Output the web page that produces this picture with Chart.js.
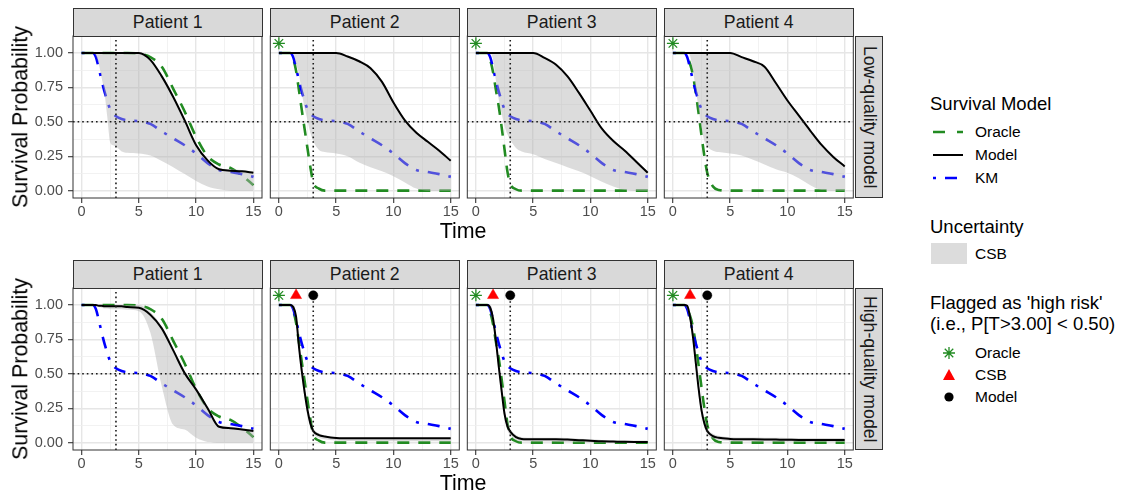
<!DOCTYPE html>
<html>
<head>
<meta charset="utf-8">
<script src="https://cdn.jsdelivr.net/npm/chart.js@4.4.1/dist/chart.umd.min.js"></script>
<style>
  body { margin: 0; background: #fff; }
  #page { position: relative; width: 1122px; height: 493px; overflow: hidden; font-family: "Liberation Sans", Arial, sans-serif; color: #000; }
  #page canvas { position: absolute; }
  .strip { position: absolute; box-sizing: border-box; background: #d9d9d9; border: 1px solid #333; color: #1a1a1a; font-size: 17.7px; display: flex; align-items: center; justify-content: center; white-space: nowrap; }
  .vstrip { writing-mode: vertical-rl; }
  .txt { position: absolute; white-space: nowrap; line-height: 1; }
  #keys { position: absolute; left: 0; top: 0; }
</style>
</head>
<body>
<div id="page"></div>
<script>
// ---- data ----
const times = [0, 1, 1.25, 1.5, 1.75, 2, 2.25, 2.5, 2.75, 3, 3.5, 4, 5, 6, 7, 8, 9, 10, 11, 12, 13, 14, 15];
const patients = ['Patient 1', 'Patient 2', 'Patient 3', 'Patient 4'];
const rowLabels = ['Low-quality model', 'High-quality model'];
const xBreaks = [0, 5, 10, 15];
const xMinorBreaks = [2.5, 7.5, 12.5];
const yBreaks = [0, 0.25, 0.5, 0.75, 1];
const yMinorBreaks = [0.125, 0.375, 0.625, 0.875];
const riskTime = 3;
const riskLevel = 0.5;
const flagY = 1.07;

// population Kaplan-Meier (same in every panel)
const kmCurve = [1, 1, 0.97, 0.89, 0.80, 0.72, 0.65, 0.59, 0.56, 0.54, 0.52, 0.51, 0.505, 0.485, 0.43, 0.38, 0.33, 0.27, 0.20, 0.15, 0.135, 0.12, 0.10];

// true survival per patient
const oracleCurves = [
  [1, 1, 1, 1, 1, 1, 1, 1, 1, 1, 1, 1, 0.995, 0.97, 0.90, 0.74, 0.575, 0.39, 0.25, 0.19, 0.165, 0.11, 0.04],
  [1, 1, 0.96, 0.87, 0.73, 0.585, 0.445, 0.305, 0.17, 0.06, 0.015, 0, 0, 0, 0, 0, 0, 0, 0, 0, 0, 0, 0],
  [1, 1, 0.95, 0.86, 0.73, 0.61, 0.46, 0.30, 0.14, 0.05, 0.01, 0, 0, 0, 0, 0, 0, 0, 0, 0, 0, 0, 0],
  [1, 1, 0.97, 0.92, 0.84, 0.71, 0.56, 0.40, 0.25, 0.13, 0.03, 0.005, 0, 0, 0, 0, 0, 0, 0, 0, 0, 0, 0]
];

// low-quality model
const modelLow = [
  [1, 1, 1, 1, 1, 1, 1, 1, 1, 1, 1, 1, 1, 0.95, 0.83, 0.68, 0.51, 0.33, 0.22, 0.155, 0.145, 0.14, 0.13],
  [1, 1, 1, 1, 1, 1, 1, 1, 1, 1, 1, 1, 1, 0.975, 0.94, 0.89, 0.79, 0.64, 0.51, 0.42, 0.355, 0.29, 0.217],
  [1, 1, 1, 1, 1, 1, 1, 1, 1, 1, 1, 1, 1, 0.965, 0.915, 0.83, 0.71, 0.58, 0.45, 0.36, 0.29, 0.21, 0.13],
  [1, 1, 1, 1, 1, 1, 1, 1, 1, 1, 1, 1, 1, 0.97, 0.94, 0.90, 0.78, 0.655, 0.545, 0.435, 0.33, 0.245, 0.176]
];
const bandLowUpper = [
  [1, 1, 1, 1, 1, 1, 1, 1, 1, 1, 1, 1, 1, 0.96, 0.845, 0.695, 0.525, 0.345, 0.23, 0.165, 0.155, 0.15, 0.14],
  [1, 1, 1, 1, 1, 1, 1, 1, 1, 1, 1, 1, 1, 0.98, 0.95, 0.90, 0.80, 0.65, 0.52, 0.43, 0.365, 0.30, 0.225],
  [1, 1, 1, 1, 1, 1, 1, 1, 1, 1, 1, 1, 1, 0.97, 0.925, 0.84, 0.72, 0.59, 0.46, 0.37, 0.30, 0.22, 0.14],
  [1, 1, 1, 1, 1, 1, 1, 1, 1, 1, 1, 1, 1, 0.975, 0.95, 0.91, 0.79, 0.665, 0.555, 0.445, 0.34, 0.255, 0.185]
];
const bandLowLower = [
  [1, 1, 0.98, 0.92, 0.82, 0.71, 0.53, 0.35, 0.33, 0.32, 0.285, 0.275, 0.27, 0.255, 0.215, 0.17, 0.12, 0.07, 0.03, 0.01, 0, 0, 0],
  [1, 1, 1, 0.92, 0.85, 0.71, 0.60, 0.51, 0.42, 0.36, 0.295, 0.28, 0.27, 0.25, 0.205, 0.17, 0.14, 0.105, 0.06, 0.015, 0, 0, 0],
  [1, 1, 1, 0.95, 0.80, 0.66, 0.56, 0.47, 0.41, 0.37, 0.31, 0.285, 0.265, 0.23, 0.20, 0.17, 0.14, 0.105, 0.065, 0.03, 0.005, 0, 0],
  [1, 1, 1, 0.98, 0.87, 0.74, 0.59, 0.46, 0.36, 0.32, 0.29, 0.28, 0.27, 0.255, 0.225, 0.19, 0.155, 0.13, 0.09, 0.04, 0.005, 0, 0]
];

// high-quality model
const modelHigh = [
  [1, 1, 1, 0.995, 0.995, 0.99, 0.99, 0.99, 0.99, 0.99, 0.99, 0.985, 0.98, 0.93, 0.83, 0.67, 0.505, 0.385, 0.25, 0.115, 0.105, 0.095, 0.085],
  [1, 1, 0.985, 0.915, 0.70, 0.52, 0.366, 0.235, 0.14, 0.084, 0.055, 0.045, 0.034, 0.032, 0.031, 0.031, 0.031, 0.031, 0.031, 0.031, 0.031, 0.031, 0.031],
  [1, 1, 0.98, 0.90, 0.74, 0.55, 0.375, 0.21, 0.12, 0.08, 0.04, 0.027, 0.024, 0.024, 0.024, 0.022, 0.018, 0.014, 0.01, 0.008, 0.006, 0.005, 0.005],
  [1, 1, 0.995, 0.91, 0.77, 0.58, 0.39, 0.235, 0.14, 0.084, 0.047, 0.035, 0.027, 0.025, 0.024, 0.023, 0.022, 0.021, 0.02, 0.02, 0.02, 0.02, 0.02]
];
const bandHighUpper = [
  [1, 1, 1, 1, 1, 1, 1, 1, 1, 1, 1, 1, 1, 0.95, 0.845, 0.685, 0.52, 0.395, 0.265, 0.125, 0.115, 0.105, 0.095],
  [1, 1, 1, 0.95, 0.75, 0.57, 0.41, 0.27, 0.165, 0.105, 0.068, 0.052, 0.038, 0.036, 0.035, 0.035, 0.035, 0.035, 0.035, 0.035, 0.035, 0.035, 0.035],
  [1, 1, 1, 0.94, 0.79, 0.60, 0.42, 0.25, 0.15, 0.10, 0.055, 0.04, 0.036, 0.036, 0.035, 0.033, 0.029, 0.025, 0.02, 0.018, 0.016, 0.015, 0.015],
  [1, 1, 1, 0.95, 0.82, 0.63, 0.435, 0.27, 0.17, 0.105, 0.065, 0.05, 0.04, 0.038, 0.037, 0.036, 0.035, 0.034, 0.033, 0.033, 0.033, 0.033, 0.033]
];
const bandHighLower = [
  [1, 0.995, 0.99, 0.985, 0.98, 0.975, 0.975, 0.97, 0.97, 0.97, 0.97, 0.965, 0.955, 0.80, 0.41, 0.13, 0.095, 0.035, 0.005, 0, 0, 0, 0],
  [1, 0.995, 0.96, 0.87, 0.66, 0.47, 0.32, 0.19, 0.105, 0.062, 0.035, 0.025, 0.015, 0.012, 0.011, 0.01, 0.01, 0.01, 0.01, 0.01, 0.01, 0.01, 0.01],
  [1, 0.995, 0.95, 0.86, 0.69, 0.50, 0.33, 0.175, 0.09, 0.055, 0.02, 0.01, 0.008, 0.008, 0.007, 0.005, 0.003, 0.002, 0, 0, 0, 0, 0],
  [1, 0.995, 0.97, 0.87, 0.72, 0.53, 0.345, 0.20, 0.11, 0.06, 0.03, 0.02, 0.012, 0.01, 0.009, 0.008, 0.007, 0.006, 0.005, 0.005, 0.005, 0.005, 0.005]
];

// 'high risk' flags: time where the marker sits, null = not flagged
const flagOracle = [[null, 0, 0, 0], [null, 0, 0, 0]];
const flagCsb = [[null, null, null, null], [null, 1.5, 1.5, 1.5]];
const flagModel = [[null, null, null, null], [null, 3, 3, 3]];

// ---- styling / layout ----
const FONT = '"Liberation Sans", Arial, sans-serif';
const GREEN = '#228b22';
const BLUE = '#0000ff';
const RIBBON = 'rgba(178,178,178,0.46)';
const xMin = -0.75, xMax = 15.75, yMin = -0.0535, yMax = 1.1235;
const panelLeft = [73, 270, 467, 664];
const panelW = 189, panelH = 162;
const plotTop = [36, 288];
const stripH = 28;
const yAxisW = 45, xAxisH = 26, padTop = 16, padRight = 12;

Chart.defaults.font.family = FONT;

const rows = [
  { model: modelLow, hi: bandLowUpper, lo: bandLowLower },
  { model: modelHigh, hi: bandHighUpper, lo: bandHighLower }
];

const page = document.getElementById('page');

const pts = vals => times.map((t, i) => ({ x: t, y: vals[i] }));
const flagPts = x => (x === null ? [] : [{ x: x, y: flagY }]);
const near = (v, list) => list.some(b => Math.abs(b - v) < 1e-9);

const panelBorder = {
  id: 'panelBorder',
  afterDraw(chart) {
    const { ctx, chartArea: a } = chart;
    ctx.save();
    ctx.strokeStyle = '#333333';
    ctx.lineWidth = 1;
    ctx.strokeRect(a.left, a.top, a.right - a.left, a.bottom - a.top);
    ctx.restore();
  }
};

function panelDatasets(r, p) {
  const row = rows[r];
  const curve = { pointRadius: 0, cubicInterpolationMode: 'monotone', fill: false };
  const dotted = { borderColor: '#1a1a1a', borderWidth: 1.6, borderDash: [1.6, 3], pointRadius: 0, order: 1 };
  return [
    { data: flagPts(flagOracle[r][p]), showLine: false, pointStyle: 'star', pointRadius: 6,
      pointBorderColor: GREEN, pointBorderWidth: 1.3, order: 0 },
    { data: flagPts(flagCsb[r][p]), showLine: false, pointStyle: 'triangle', pointRadius: 6.4,
      pointBackgroundColor: '#ff0000', pointBorderColor: '#ff0000', pointBorderWidth: 0.5, order: 0 },
    { data: flagPts(flagModel[r][p]), showLine: false, pointStyle: 'circle', pointRadius: 4.6,
      pointBackgroundColor: '#000', pointBorderColor: '#000', pointBorderWidth: 0.5, order: 0 },
    { ...dotted, data: [{ x: xMin, y: riskLevel }, { x: xMax, y: riskLevel }] },
    { ...dotted, data: [{ x: riskTime, y: yMin }, { x: riskTime, y: yMax }] },
    { ...curve, data: pts(row.model[p]), borderColor: '#000', borderWidth: 2, order: 2 },
    { ...curve, data: pts(row.hi[p]), borderColor: 'rgba(0,0,0,0)', borderWidth: 0,
      backgroundColor: RIBBON, fill: { target: 7 }, order: 3 },
    { ...curve, data: pts(row.lo[p]), borderColor: 'rgba(0,0,0,0)', borderWidth: 0, order: 4 },
    { ...curve, data: pts(kmCurve), borderColor: BLUE, borderWidth: 2.6, borderDash: [3, 9, 12, 9], order: 5 },
    { ...curve, data: pts(oracleCurves[p]), borderColor: GREEN, borderWidth: 2.6, borderDash: [12, 9], order: 6 }
  ];
}

function makePanel(r, p) {
  const first = p === 0;
  const canvas = document.createElement('canvas');
  canvas.width = (first ? yAxisW : 0) + panelW + padRight;
  canvas.height = padTop + panelH + xAxisH;
  page.appendChild(canvas);

  const gridColor = (c, list) => (c.tick && near(c.tick.value, list) ? '#e6e6e6' : '#efefef');
  const gridWidth = (c, list) => (c.tick && near(c.tick.value, list) ? 1.4 : 0.8);
  const tickColor = (c, list) => (c.tick && near(c.tick.value, list) ? '#333333' : 'rgba(0,0,0,0)');

  const chart = new Chart(canvas, {
    type: 'line',
    data: { datasets: panelDatasets(r, p) },
    plugins: [panelBorder],
    options: {
      responsive: false,
      maintainAspectRatio: false,
      animation: false,
      events: [],
      devicePixelRatio: 1,
      layout: { padding: { top: padTop, right: padRight, left: 0, bottom: 0 } },
      plugins: { legend: { display: false }, tooltip: { enabled: false } },
      elements: { point: { radius: 0, hoverRadius: 0 } },
      scales: {
        x: {
          type: 'linear', min: xMin, max: xMax,
          afterBuildTicks: s => { s.ticks = [...xBreaks, ...xMinorBreaks].sort((a, b) => a - b).map(v => ({ value: v })); },
          afterFit: s => { s.height = xAxisH; },
          border: { display: false },
          grid: {
            color: c => gridColor(c, xBreaks), lineWidth: c => gridWidth(c, xBreaks),
            tickColor: c => tickColor(c, xBreaks), tickWidth: 1.1, tickLength: 5
          },
          ticks: {
            autoSkip: false, maxRotation: 0, padding: 0, color: '#4d4d4d', font: { size: 14.5 },
            callback: v => (near(v, xBreaks) ? String(v) : '')
          }
        },
        y: {
          type: 'linear', min: yMin, max: yMax,
          afterBuildTicks: s => { s.ticks = [...yBreaks, ...yMinorBreaks].sort((a, b) => a - b).map(v => ({ value: v })); },
          afterFit: s => { s.width = first ? yAxisW : 0; },
          border: { display: false },
          grid: {
            color: c => gridColor(c, yBreaks), lineWidth: c => gridWidth(c, yBreaks),
            tickColor: c => tickColor(c, yBreaks), tickWidth: 1.1, tickLength: 5, drawTicks: first
          },
          ticks: {
            display: first, autoSkip: false, padding: 5, color: '#4d4d4d', font: { size: 14.5 },
            callback: v => (near(v, yBreaks) ? v.toFixed(2) : '')
          }
        }
      }
    }
  });

  // line the plot area up with the facet grid
  let a = chart.chartArea;
  const dw = panelW - (a.right - a.left), dh = panelH - (a.bottom - a.top);
  if (Math.abs(dw) > 0.2 || Math.abs(dh) > 0.2) {
    chart.resize(chart.width + dw, chart.height + dh);
    a = chart.chartArea;
  }
  canvas.style.left = (panelLeft[p] - a.left) + 'px';
  canvas.style.top = (plotTop[r] - a.top) + 'px';
}

function addText(txt, x, y, size, opt = {}) {
  const d = document.createElement('div');
  d.className = 'txt';
  d.textContent = txt;
  d.style.left = x + 'px';
  d.style.top = y + 'px';
  d.style.fontSize = size + 'px';
  let tf = opt.center ? 'translate(-50%,-50%)' : 'translateY(-50%)';
  if (opt.rotate) tf += ' rotate(' + opt.rotate + 'deg)';
  d.style.transform = tf;
  page.appendChild(d);
}

function addStrip(txt, x, y, w, h, vertical) {
  const d = document.createElement('div');
  d.className = 'strip' + (vertical ? ' vstrip' : '');
  d.textContent = txt;
  Object.assign(d.style, { left: x + 'px', top: y + 'px', width: w + 'px', height: h + 'px' });
  page.appendChild(d);
}

for (let r = 0; r < 2; r++) {
  for (let p = 0; p < 4; p++) {
    makePanel(r, p);
    addStrip(patients[p], panelLeft[p], plotTop[r] - stripH, panelW + 0.5, stripH + 0.5, false);
  }
  addStrip(rowLabels[r], 855, plotTop[r], 28, panelH, true);
  addText('Survival Probability', 21, plotTop[r] + panelH / 2, 21.4, { center: true, rotate: -90 });
  addText('Time', (panelLeft[0] + panelLeft[3] + panelW) / 2, plotTop[r] + panelH + 34, 21.4, { center: true });
}

// ---- legend ----
addText('Survival Model', 930, 104, 18.5);
addText('Oracle', 975, 132, 15.5);
addText('Model', 975, 155, 15.5);
addText('KM', 975, 178, 15.5);
addText('Uncertainty', 930, 227, 18.5);
addText('CSB', 975, 254, 15.5);
addText("Flagged as 'high risk'", 930, 303, 18.5);
addText('(i.e., P[T>3.00] < 0.50)', 930, 324, 18.5);
addText('Oracle', 975, 353, 15.5);
addText('CSB', 975, 375, 15.5);
addText('Model', 975, 397, 15.5);

const svgNS = 'http://www.w3.org/2000/svg';
const svg = document.createElementNS(svgNS, 'svg');
svg.setAttribute('id', 'keys');
svg.setAttribute('width', 1122);
svg.setAttribute('height', 493);
function el(name, attrs) {
  const e = document.createElementNS(svgNS, name);
  for (const k in attrs) e.setAttribute(k, attrs[k]);
  svg.appendChild(e);
}
el('line', { x1: 933, y1: 132, x2: 963, y2: 132, stroke: GREEN, 'stroke-width': 2.6, 'stroke-dasharray': '12 12' });
el('line', { x1: 933, y1: 155, x2: 963, y2: 155, stroke: '#000', 'stroke-width': 2 });
el('line', { x1: 933, y1: 178, x2: 963, y2: 178, stroke: BLUE, 'stroke-width': 2.6, 'stroke-dasharray': '3 9 12 9' });
el('rect', { x: 931, y: 243, width: 36, height: 21, fill: RIBBON });
const sx = 949, sy = 353, sr = 6, sd = sr * Math.SQRT1_2;
el('path', {
  d: `M${sx - sr} ${sy}H${sx + sr}M${sx} ${sy - sr}V${sy + sr}M${sx - sd} ${sy - sd}L${sx + sd} ${sy + sd}M${sx - sd} ${sy + sd}L${sx + sd} ${sy - sd}`,
  stroke: GREEN, 'stroke-width': 1.3, fill: 'none'
});
el('polygon', { points: '949,369 943,380 955,380', fill: '#ff0000' });
el('circle', { cx: 949, cy: 397, r: 4.6, fill: '#000' });
page.appendChild(svg);
</script>
</body>
</html>
